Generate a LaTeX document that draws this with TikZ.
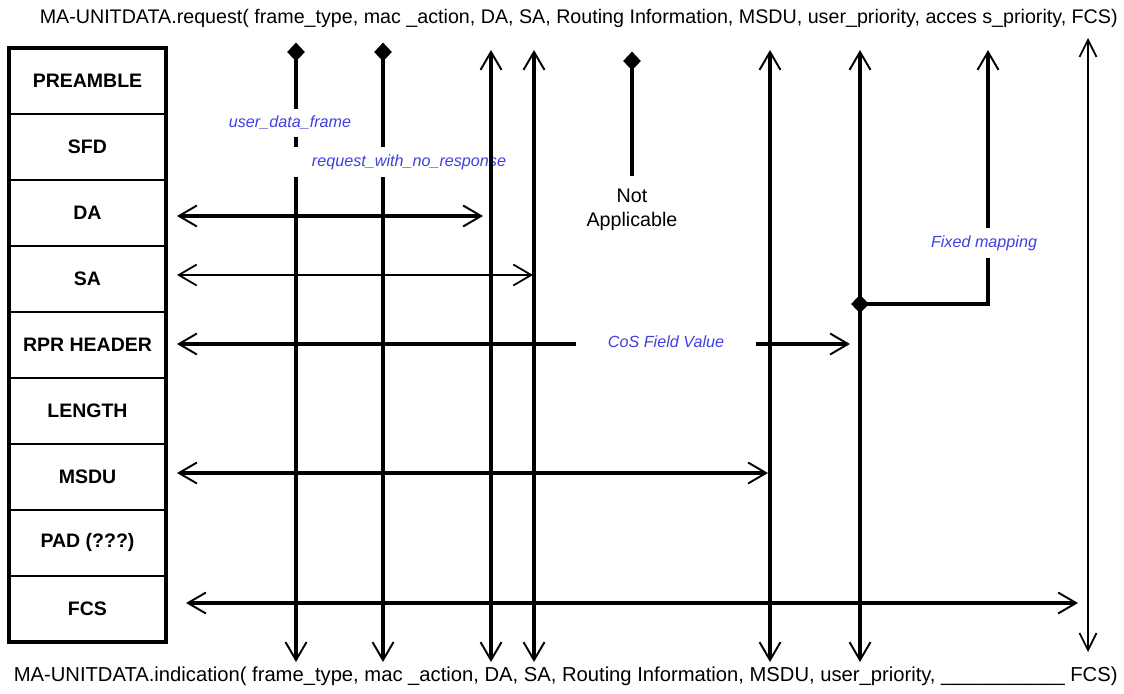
\documentclass[tikz,border=0pt]{standalone}
\usepackage{fontspec}
\setmainfont{Liberation Sans}
\usetikzlibrary{arrows.meta, positioning, shapes.geometric}
\definecolor{noteblue}{RGB}{64,64,224}

\begin{document}
\begin{tikzpicture}[
    x=0.02cm, y=-0.02cm,
    % Node styles
    field/.style={rectangle, draw=black, line width=1.1pt, outer sep=0pt, minimum width=3.14cm, minimum height=1.32cm, inner sep=0pt, font=\fontsize{11.1}{13}\selectfont\bfseries},
    prim/.style={inner sep=0pt, font=\fontsize{11.2}{13}\selectfont},
    note/.style={fill=white, text=noteblue, inner xsep=5pt, inner ysep=4pt, font=\fontsize{9.2}{11}\selectfont\itshape},
    plain/.style={align=center, inner sep=0pt, font=\fontsize{11.2}{13.6}\selectfont},
    dot/.style={diamond, fill=black, inner sep=0pt, minimum width=0.36cm, minimum height=0.38cm},
    % Line styles
    vline/.style={line width=1.9pt, -{Straight Barb[length=0.36cm, width=0.42cm, line width=1.1pt]}},
    bline/.style={line width=1.9pt, {Straight Barb[length=0.36cm, width=0.42cm, line width=1.1pt]}-{Straight Barb[length=0.36cm, width=0.42cm, line width=1.1pt]}},
    thinline/.style={line width=1pt, {Straight Barb[length=0.36cm, width=0.42cm]}-{Straight Barb[length=0.36cm, width=0.42cm]}},
]
\useasboundingbox (0,0) rectangle (1124,693);

% === Primitive texts ===
\node[prim, anchor=east] (req) at (1118,18) {MA-UNITDATA.request( frame\_type, mac \_action, DA, SA, Routing Information, MSDU, user\_priority, acces s\_priority, FCS)};
\node[prim, font=\fontsize{11.5}{13}\selectfont, anchor=east] (ind) at (1118,676) {MA-UNITDATA.indication( frame\_type, mac \_action, DA, SA, Routing Information, MSDU, user\_priority, \_\_\_\_\_\_\_\_\_\_\_\ FCS)};

% === Frame fields ===
\node[field, anchor=north west] (preamble) at (9,48) {PREAMBLE};
\node[field, below=0pt of preamble] (sfd) {SFD};
\node[field, below=0pt of sfd] (da) {DA};
\node[field, below=0pt of da] (sa) {SA};
\node[field, below=0pt of sa] (rpr) {RPR HEADER};
\node[field, below=0pt of rpr] (length) {LENGTH};
\node[field, below=0pt of length] (msdu) {MSDU};
\node[field, below=0pt of msdu] (pad) {PAD (???)};
\node[field, below=0pt of pad] (fcs) {FCS};
\draw[line width=1.9pt] (preamble.north west) rectangle (fcs.south east);

% === Parameter columns ===
\node[dot] (ftdot) at (296,52) {};
\node[dot] (madot) at (383,52) {};
\node[dot] (ridot) at (632,61) {};
\coordinate (ftB) at (296,662);
\coordinate (maB) at (383,662);
\coordinate (daT) at (491,50);  \coordinate (daB) at (491,662);
\coordinate (saT) at (534,50);  \coordinate (saB) at (534,662);
\coordinate (riB) at (632,176);
\coordinate (msduT) at (770,50); \coordinate (msduB) at (770,662);
\coordinate (upT) at (860,50);  \coordinate (upB) at (860,662);
\coordinate (apT) at (988,50);
\coordinate (fcsT) at (1088,38); \coordinate (fcsB) at (1088,652);

\draw[vline] (ftdot.center) -- (ftB);
\draw[vline] (madot.center) -- (maB);

% mac_action values
\node[note] (udf) at (290,123) {user\_data\_frame};
\node[note, inner xsep=16pt] (rnr) at (409,162) {request\_with\_no\_response};

\draw[bline] (daT) -- (daB);
\draw[bline] (saT) -- (saB);
\draw[line width=1.9pt] (ridot.center) -- (riB);
\draw[bline] (msduT) -- (msduB);
\draw[bline] (upT) -- (upB);
\draw[line width=1pt, {Straight Barb[length=0.34cm, width=0.34cm]}-{Straight Barb[length=0.34cm, width=0.34cm]}] (fcsT) -- (fcsB);
\node[plain, below=0.26cm of riB] (na) {Not\\Applicable};

% === Field mappings ===
\coordinate (daL) at (177,216);  \coordinate (daR) at (483,216);
\coordinate (saL) at (177,275);  \coordinate (saR) at (533,275);
\coordinate (rprL) at (177,344); \coordinate (rprR) at (850,344);
\coordinate (msduL) at (177,473); \coordinate (msduR) at (768,473);
\coordinate (fcsL) at (186,603); \coordinate (fcsR) at (1078,603);
\draw[bline] (daL) -- (daR);
\draw[thinline] (saL) -- (saR);
\draw[bline] (rprL) -- (rprR);
\draw[bline] (msduL) -- (msduR);
\draw[bline] (fcsL) -- (fcsR);
\node[note, inner xsep=18pt] (cos) at (666,342) {CoS Field Value};

% user_priority -> access_priority
\node[dot] (updot) at (860,304) {};
\draw[vline] (updot.center) -| (apT);
\node[note, inner xsep=3pt] (fixed) at (984,243) {Fixed mapping};

\end{tikzpicture}
\end{document}
